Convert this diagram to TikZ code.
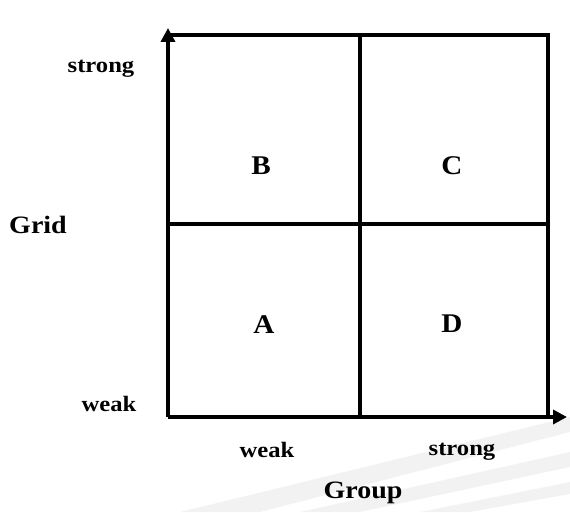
\documentclass[tikz,border=0pt]{standalone}
\usepackage{fontspec}
\setmainfont{Liberation Serif}
\usetikzlibrary{arrows.meta}
\begin{document}
\begin{tikzpicture}[x=1pt,y=1pt,
  lbl/.style={font=\bfseries\fontsize{22}{24}\selectfont, inner sep=0pt, xscale=1.12},
  cell/.style={font=\bfseries\fontsize{27}{29}\selectfont, inner sep=0pt, xscale=1.08},
  ttl/.style={font=\bfseries\fontsize{25}{27}\selectfont, inner sep=0pt, xscale=1.12},
  frame/.style={line width=3.2pt},
  axis/.style={line width=4pt, -{Triangle[length=14pt,width=14pt]}},
  streak/.style={fill=gray, opacity=0.1}]
\useasboundingbox (0,0) rectangle (570,512);
% faint background streaks (scan artefact)
\fill[streak] (180,0) -- (570,95) -- (570,80) -- (260,0) -- cycle;
\fill[streak] (300,0) -- (570,60) -- (570,45) -- (360,0) -- cycle;
\fill[streak] (420,0) -- (570,30) -- (570,18) -- (470,0) -- cycle;
% coordinates
\coordinate (O) at (168,95);
\coordinate (ytip) at (168,484);
\coordinate (xtip) at (567,95);
% frame
\draw[frame] (168,477) -- (548,477) -- (548,95);
\draw[frame] (360,477) -- (360,95);
\draw[frame] (168,288) -- (548,288);
% axes
\draw[axis] (O) -- (ytip);
\draw[axis] (O) -- (xtip);
% cell labels
\node[cell] (B) at (261,346) {B};
\node[cell] (C) at (452,346) {C};
\node[cell] (A) at (264,187) {A};
\node[cell] (D) at (452,188) {D};
% axis labels
\node[lbl] (ys) at (101,443) {strong};
\node[ttl] (grid) at (38,287) {Grid};
\node[lbl] (yw) at (109,108) {weak};
\node[lbl] (xw) at (267,62) {weak};
\node[lbl] (xs) at (462,60) {strong};
\node[ttl] (group) at (363,19) {Group};
\end{tikzpicture}
\end{document}
